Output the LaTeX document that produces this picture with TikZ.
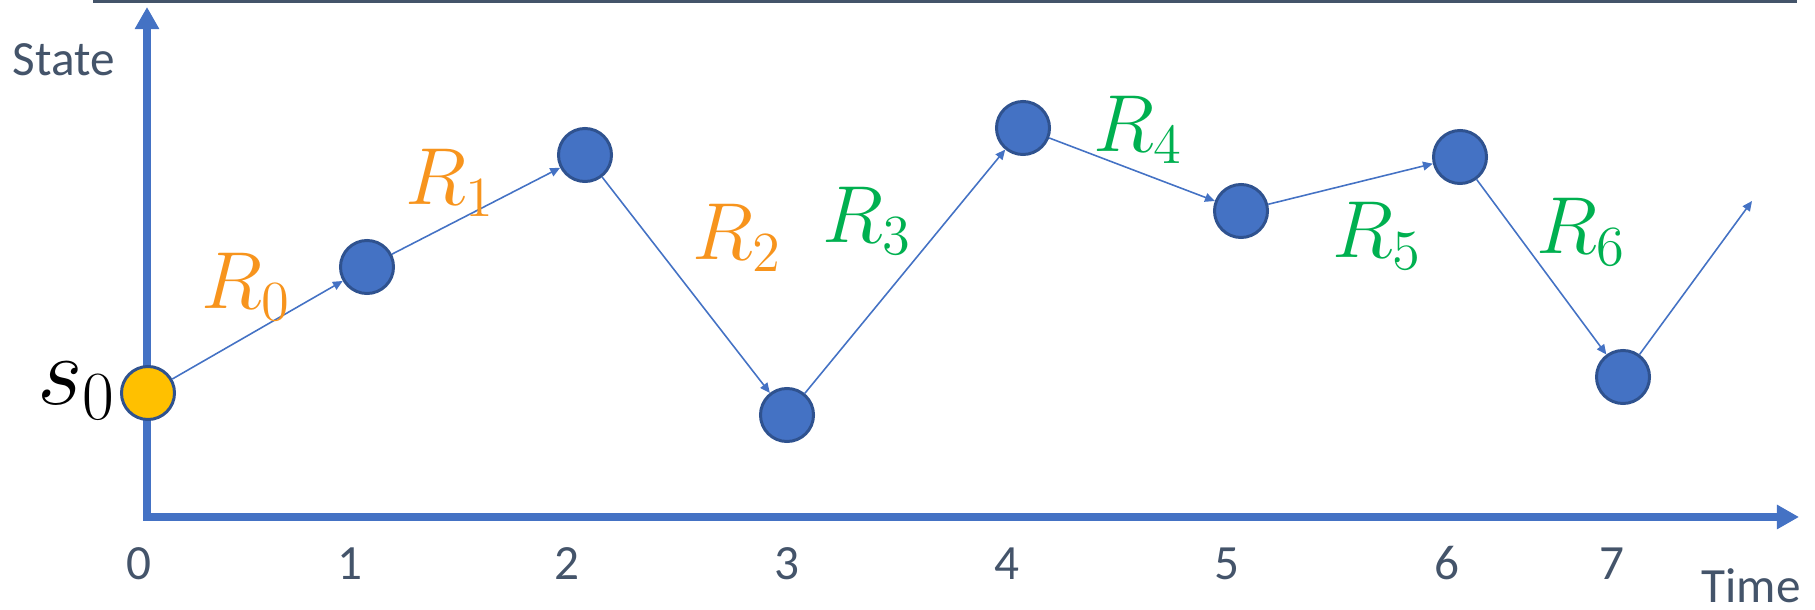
\RequirePackage{fix-cm}
\documentclass[tikz,border=0pt]{standalone}
\usepackage{fontspec}
\newfontfamily\carlito{Carlito}
\usetikzlibrary{arrows.meta}
\definecolor{trajblue}{HTML}{4472C4}
\definecolor{trajedge}{HTML}{2F528F}
\definecolor{trajslate}{HTML}{44546A}
\definecolor{trajorange}{HTML}{F7941D}
\definecolor{trajgreen}{HTML}{00B050}
\definecolor{trajgold}{HTML}{FFC000}

\begin{document}
\begin{tikzpicture}[x=0.01cm,y=-0.01cm,
  state/.style={circle,draw=trajedge,line width=0.85pt,fill=trajblue,minimum size=5.3mm,inner sep=0pt},
  start/.style={state,fill=trajgold},
  move/.style={->,draw=trajblue,line width=0.45pt},
  axis/.style={draw=trajblue,line width=2pt,line join=miter},
  tick/.style={font=\carlito\fontsize{14}{16}\selectfont,text=trajslate,anchor=base,inner sep=0pt},
  rew/.style={font=\fontsize{23}{27}\selectfont,inner sep=0pt},
  >={Triangle[length=2.8pt,width=2.5pt]}]
\useasboundingbox (0,0) rectangle (1815,610);
% frame line on top
\draw[trajslate,line width=0.8pt] (93,1.3) -- (1797,1.3);
% axes
\coordinate (origin) at (147,517);
\coordinate (ytip) at (147,7);
\coordinate (xtip) at (1799,517);
\draw[axis,{Triangle[length=6.3pt,width=6.6pt]}-{Triangle[length=6.3pt,width=6.6pt]}] (ytip) -- (origin) -- (xtip);
\node[tick,anchor=base west] (ylab) at (12,76) {State};
\node[tick,anchor=base west] (xlab) at (1701,603) {Time};
\foreach \t/\x in {0/139,1/350,2/567,3/787,4/1007,5/1227,6/1447,7/1612}
  \node[tick] (t\t) at (\x,580) {\t};
% trajectory
\node[start] (s0) at (148,393) {};
\node[state] (s1) at (367,267) {};
\node[state] (s2) at (585,155) {};
\node[state] (s3) at (787,415) {};
\node[state] (s4) at (1023,128) {};
\node[state] (s5) at (1241,211) {};
\node[state] (s6) at (1460,157) {};
\node[state] (s7) at (1623,377) {};
\coordinate (next) at (1752,201);
\node[inner sep=0pt,anchor=base east,font=\fontsize{28}{32}\selectfont] (s0lab) at (117,405) {$s_0$};
\draw[move] (s0) -- (s1);
\draw[move] (s1) -- (s2);
\draw[move] (s2) -- (s3);
\draw[move] (s3) -- (s4);
\draw[move] (s4) -- (s5);
\draw[move] (s5) -- (s6);
\draw[move] (s6) -- (s7);
\draw[move] (s7) -- (next);
% rewards
\node[rew,text=trajorange] (r0) at (246,287) {$R_0$};
\node[rew,text=trajorange] (r1) at (450,183) {$R_1$};
\node[rew,text=trajorange] (r2) at (737,238) {$R_2$};
\node[rew,text=trajgreen] (r3) at (867,221) {$R_3$};
\node[rew,text=trajgreen] (r4) at (1138,130) {$R_4$};
\node[rew,text=trajgreen] (r5) at (1377,236) {$R_5$};
\node[rew,text=trajgreen] (r6) at (1581,232) {$R_6$};
\end{tikzpicture}
\end{document}
